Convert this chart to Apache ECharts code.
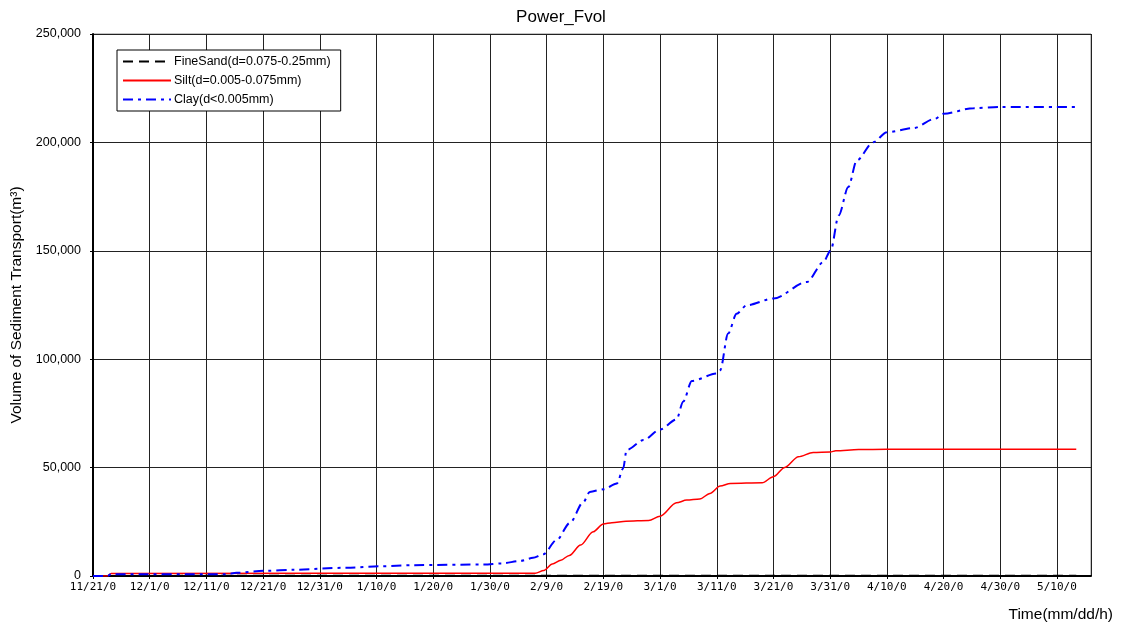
<!DOCTYPE html>
<html>
<head>
<meta charset="utf-8">
<script src="https://cdn.jsdelivr.net/npm/echarts@6/dist/echarts.min.js"></script>
<style>
  html, body { margin: 0; padding: 0; background: #fff; }
  #container { width: 1122px; height: 628px; }
</style>
</head>
<body>
<div id="container"></div>
<script>
// tick labels every 10 days from 11/21
var tickLabels = ['11/21/0', '12/1/0', '12/11/0', '12/21/0', '12/31/0', '1/10/0', '1/20/0', '1/30/0', '2/9/0',
    '2/19/0', '3/1/0', '3/11/0', '3/21/0', '3/31/0', '4/10/0', '4/20/0', '4/30/0', '5/10/0'];
var seriesNames = ['FineSand(d=0.075-0.25mm)', 'Silt(d=0.005-0.075mm)', 'Clay(d<0.005mm)'];

// days since 11/21 and values (m3)
var sandDays = [0, 3, 80, 130, 173.4];
var sandVals = [0, 50, 100, 150, 150];

var siltDays = [0, 2.5, 3.2, 78, 79.5, 81, 82.5, 84, 86, 88.2, 90, 91.5, 94, 98, 100, 102.9, 104.7, 107, 108.8,
    110.6, 112.4, 118, 120, 122, 124.4, 127, 130, 131, 135, 140, 173.4];
var siltVals = [0, 0, 1200, 1300, 2500, 5500, 7300, 9500, 14300, 20400, 24000, 24600, 25300, 25600, 27600, 33800,
    35000, 35500, 38100, 41500, 42700, 43000, 45800, 50100, 55000, 57000, 57200, 57800, 58300, 58500, 58500];

var clayDays = [0, 2.5, 3.2, 23.5, 25.3, 30.6, 35.3, 44.7, 50.6, 56.4, 69, 72, 75.5, 77.6, 79.4, 81.8, 84.1, 86.5,
    87.6, 90, 92.4, 93.5, 94.1, 97.1, 100, 102.9, 104.1, 105.6, 110, 110.6, 112, 113.5, 115.3, 120, 125.9, 128.8,
    130.1, 131.5, 133.2, 134.7, 137.6, 140, 144.7, 148.5, 150, 155.3, 160, 173.5];
var clayVals = [0, 0, 800, 800, 1500, 2400, 2900, 3800, 4500, 5000, 5300, 5800, 7000, 8400, 10000, 16700, 24500,
    34200, 38800, 40000, 42700, 49600, 58100, 62700, 67600, 72200, 80500, 90000, 93400, 94900, 111800, 121000,
    124900, 128000, 135600, 144800, 150200, 166300, 179400, 191700, 200100, 204700, 206600, 210900, 213200,
    215800, 216300, 216300];

function pairs(xs, ys) {
    var out = [];
    for (var i = 0; i < xs.length; i++) out.push([xs[i], ys[i]]);
    return out;
}

var myChart = echarts.init(document.getElementById('container'));
var option = {
    animation: false,
    backgroundColor: '#fff',
    title: {
        text: 'Power_Fvol',
        left: 'center',
        top: 4,
        textStyle: { fontFamily: 'Liberation Sans', fontSize: 17, fontWeight: 'normal', color: '#000' }
    },
    legend: {
        orient: 'vertical',
        left: 117,
        top: 50,
        width: 220,
        padding: [5, 10, 5, 5],
        itemGap: 6,
        itemWidth: 48,
        itemHeight: 13,
        backgroundColor: '#fff',
        borderColor: '#000',
        borderWidth: 1,
        borderRadius: 0,
        itemStyle: { opacity: 0 },
        textStyle: { fontFamily: 'Liberation Sans', fontSize: 12.5, color: '#000', padding: [0, 0, 0, -2] },
        data: seriesNames
    },
    grid: {
        left: 93,
        top: 34,
        right: 31,
        bottom: 52,
        show: true,
        borderColor: '#888',
        borderWidth: 1
    },
    xAxis: {
        type: 'value',
        min: 0,
        max: 176,
        interval: 10,
        axisLine: { lineStyle: { color: '#000', width: 2 } },
        axisTick: { show: true, inside: false, length: 3, lineStyle: { color: '#000' } },
        splitLine: { show: true, lineStyle: { color: '#222', width: 1 } },
        axisLabel: {
            showMaxLabel: false,
            margin: 6,
            fontFamily: 'DejaVu Sans Mono',
            fontSize: 11,
            color: '#000',
            formatter: function (v) { return tickLabels[Math.round(v / 10)] || ''; }
        }
    },
    yAxis: {
        type: 'value',
        min: 0,
        max: 250000,
        interval: 50000,
        name: 'Volume of Sediment Transport(m\u00B3)',
        nameLocation: 'middle',
        nameRotate: 90,
        nameGap: 65,
        nameTextStyle: { fontFamily: 'Liberation Sans', fontSize: 15.5, color: '#000' },
        axisLine: { show: true, lineStyle: { color: '#000', width: 2 } },
        axisTick: { show: true, length: 3, lineStyle: { color: '#000' } },
        splitLine: { show: true, lineStyle: { color: '#222', width: 1 } },
        axisLabel: {
            margin: 12,
            fontFamily: 'Liberation Sans',
            fontSize: 12.5,
            color: '#000',
            formatter: function (v) { return v.toLocaleString('en-US'); }
        }
    },
    graphic: [{
        type: 'text',
        right: 9,
        top: 607,
        style: { text: 'Time(mm/dd/h)', font: '15.5px "Liberation Sans"', fill: '#000' }
    }],
    series: [{
        name: seriesNames[0],
        type: 'line',
        showSymbol: false,
        symbol: 'none',
        color: '#000',
        lineStyle: { color: '#000', width: 2, type: [10, 6] },
        data: pairs(sandDays, sandVals)
    }, {
        name: seriesNames[1],
        type: 'line',
        showSymbol: false,
        symbol: 'none',
        smooth: 0.3,
        smoothMonotone: 'x',
        color: '#ff0000',
        lineStyle: { color: '#ff0000', width: 1.5 },
        data: pairs(siltDays, siltVals)
    }, {
        name: seriesNames[2],
        type: 'line',
        showSymbol: false,
        symbol: 'none',
        smooth: 0.3,
        smoothMonotone: 'x',
        color: '#0000ff',
        lineStyle: { color: '#0000ff', width: 2, type: [10, 5, 3, 5] },
        data: pairs(clayDays, clayVals)
    }]
};
myChart.setOption(option);
</script>
</body>
</html>
